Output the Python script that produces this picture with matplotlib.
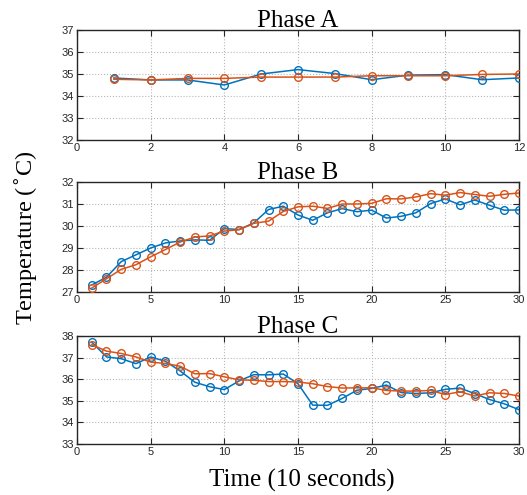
import matplotlib
matplotlib.use("Agg")
import matplotlib.pyplot as plt

xa = list(range(1, 13))
a_blue = [34.82, 34.73, 34.73, 34.50, 35.00, 35.20, 35.02, 34.74, 34.95, 34.97, 34.74, 34.82]
a_orange = [34.76, 34.73, 34.80, 34.80, 34.86, 34.86, 34.86, 34.92, 34.92, 34.92, 34.98, 35.00]

xb = list(range(1, 31))
b_blue = [27.32, 27.67, 28.38, 28.69, 29.00, 29.23, 29.32, 29.37, 29.35, 29.88,
          29.84, 30.14, 30.75, 30.90, 30.50, 30.26, 30.60, 30.79, 30.65, 30.72,
          30.36, 30.44, 30.60, 31.02, 31.23, 30.96, 31.18, 30.94, 30.72, 30.73]
b_orange = [27.18, 27.60, 28.03, 28.24, 28.60, 28.93, 29.27, 29.50, 29.55, 29.77,
            29.83, 30.12, 30.22, 30.66, 30.87, 30.90, 30.80, 31.00, 31.00, 31.03,
            31.24, 31.23, 31.32, 31.47, 31.40, 31.52, 31.43, 31.35, 31.44, 31.50]

xc = list(range(1, 31))
c_blue = [37.72, 37.03, 36.95, 36.72, 37.03, 36.83, 36.38, 35.86, 35.65, 35.52,
          35.92, 36.21, 36.20, 36.24, 35.79, 34.80, 34.79, 35.11, 35.49, 35.57,
          35.73, 35.38, 35.34, 35.37, 35.53, 35.59, 35.33, 35.06, 34.86, 34.59]
c_orange = [37.60, 37.30, 37.19, 37.03, 36.79, 36.73, 36.60, 36.25, 36.26, 36.11,
            35.97, 35.95, 35.89, 35.89, 35.87, 35.79, 35.66, 35.59, 35.60, 35.60,
            35.48, 35.45, 35.45, 35.48, 35.29, 35.42, 35.22, 35.37, 35.34, 35.22]

titles = ["Phase A", "Phase B", "Phase C"]
xlims = [(0, 12), (0, 30), (0, 30)]
ylims = [(32, 37), (27, 32), (33, 38)]
xticks = [list(range(0, 13, 2)), list(range(0, 31, 5)), list(range(0, 31, 5))]

BLUE = "#0072BD"
ORANGE = "#D95319"

W, H = 527, 495
fig = plt.figure(figsize=(W / 100, H / 100), dpi=100)

boxes = [(30, 140), (182, 292), (336, 444)]
left, right = 77, 519
data = [(xa, a_blue, a_orange), (xb, b_blue, b_orange), (xc, c_blue, c_orange)]

serif = "Liberation Serif"
sans = "Liberation Sans"

for i, (top, bot) in enumerate(boxes):
    ax = fig.add_axes([left / W, 1 - bot / H, (right - left) / W, (bot - top) / H])
    x, yb, yo = data[i]
    ax.plot(x, yb, color=BLUE, lw=1.1, marker="o", mfc="none", mec=BLUE, ms=5.5, mew=1.0, zorder=3)
    ax.plot(x, yo, color=ORANGE, lw=1.1, marker="o", mfc="none", mec=ORANGE, ms=5.5, mew=1.0, zorder=3)
    ax.set_xlim(*xlims[i])
    ax.set_ylim(*ylims[i])
    ax.set_xticks(xticks[i])
    ax.set_yticks(list(range(ylims[i][0], ylims[i][1] + 1)))
    ax.grid(True, color="#b8b8b8", linestyle=":", linewidth=0.8)
    ax.tick_params(direction="in", top=True, right=True, length=4, width=0.8,
                   labelsize=8, pad=2, colors="#262626")
    for lab in ax.get_xticklabels() + ax.get_yticklabels():
        lab.set_fontfamily(sans)
    for s in ax.spines.values():
        s.set_linewidth(1.0)
        s.set_color("#262626")
    ax.set_title(titles[i], fontfamily=serif, fontsize=18, pad=2.5)

fig.text(26 / W, 1 - 238 / H, "Temperature ($^{\\circ}$C)", rotation=90, ha="center", va="center",
         fontfamily=serif, fontsize=17.5)
fig.text(302 / W, 1 - 480 / H, "Time (10 seconds)", ha="center", va="center",
         fontfamily=serif, fontsize=18)

fig.savefig("out.png", dpi=100)
